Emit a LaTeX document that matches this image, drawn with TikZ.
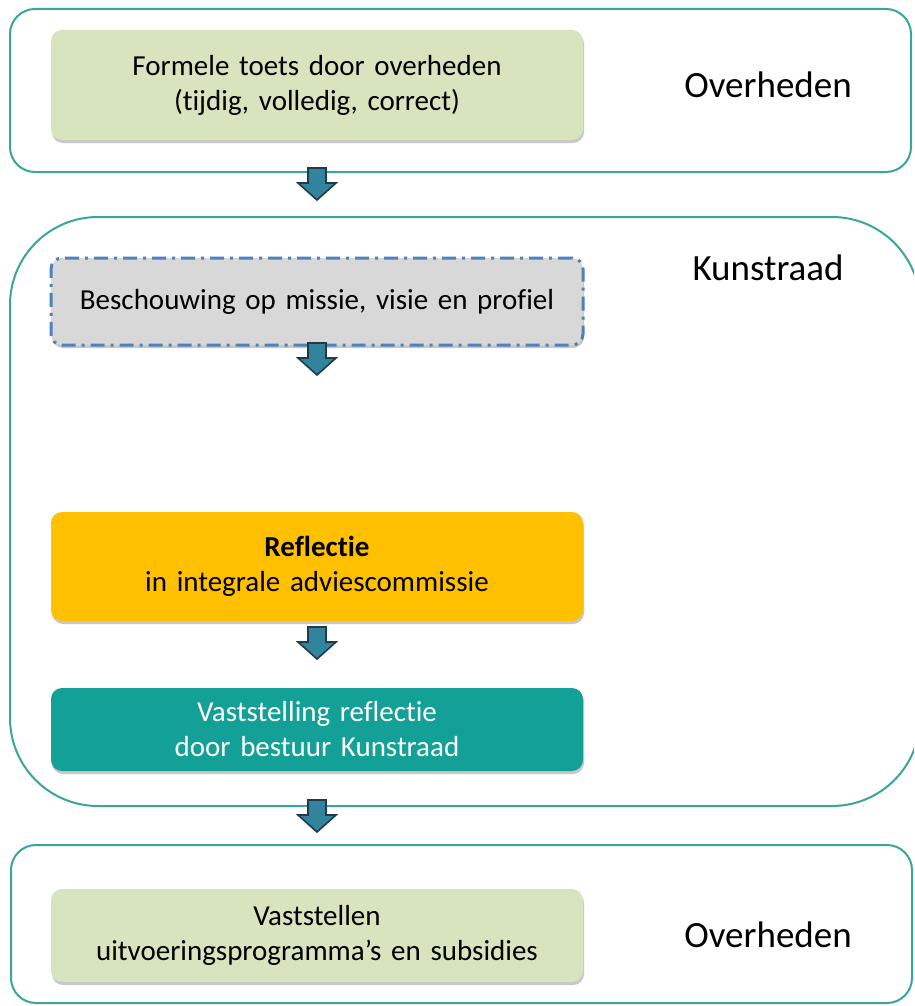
\documentclass[tikz,border=0pt]{standalone}
\usepackage{fontspec}
\setmainfont{Carlito}[Ligatures={NoCommon}]
\usetikzlibrary{shadows}
\definecolor{frameteal}{HTML}{3AA59A}
\definecolor{lightgreen}{HTML}{D7E4BD}
\definecolor{greybox}{HTML}{D8D8D8}
\definecolor{dashblue}{HTML}{4F81BD}
\definecolor{amber}{HTML}{FFC000}
\definecolor{tealbox}{HTML}{13A096}
\definecolor{arrowfill}{HTML}{31849B}
\definecolor{arrowline}{HTML}{203A4A}
\tikzset{
  frame/.style={draw=frameteal, line width=2pt},
  stepbox/.style={rectangle, rounded corners=11pt, minimum width=532pt, text width=520pt, align=center,
     font=\fontsize{29}{35}\selectfont,
     drop shadow={shadow xshift=1pt, shadow yshift=-3pt, opacity=0.3, fill=black!70}},
  sidelabel/.style={font=\fontsize{37}{42}\selectfont, anchor=center},
  blockarrow/.style={fill=arrowfill, draw=arrowline, line width=1.6pt, line join=miter}
}
\begin{document}
\begin{tikzpicture}[x=1pt,y=-1pt]
\useasboundingbox (0,0) rectangle (914,1006);
\clip (0,0) rectangle (914,1006);
\fill[white] (0,0) rectangle (914,1006);

% outer frames
\draw[frame, rounded corners=25pt] (10,9) rectangle (911,172);
\draw[frame, rounded corners=88pt] (10,217) rectangle (920,806);
\draw[frame, rounded corners=25pt] (11,845) rectangle (912,1003);

% boxes
\node[stepbox, fill=greybox, minimum height=87pt, draw=dashblue, line width=3pt,
      dash pattern=on 14pt off 6pt on 3pt off 6pt] (besch) at (317,301.5)
  {Beschouwing op missie, visie en profiel};
\node[stepbox, fill=lightgreen, minimum height=110pt] (toets) at (317,85)
  {Formele toets door overheden\\(tijdig, volledig, correct)};
\node[stepbox, fill=amber, minimum height=109pt] (refl) at (317,566.5)
  {\textbf{Reflectie}\\in integrale adviescommissie};
\node[stepbox, fill=tealbox, text=white, minimum height=83pt] (vast) at (317,729.5)
  {Vaststelling reflectie\\door bestuur Kunstraad};
\node[stepbox, fill=lightgreen, minimum height=93pt] (uitv) at (317,935.5)
  {Vaststellen\\uitvoeringsprogramma’s en subsidies};

% side labels
\node[sidelabel] (ov1) at (768,85) {Overheden};
\node[sidelabel] (kr) at (768,268) {Kunstraad};
\node[sidelabel] (ov2) at (768,935) {Overheden};

% block arrows
\coordinate (a1) at (317,168);
\coordinate (a2) at (317,343);
\coordinate (a3) at (317,627);
\coordinate (a4) at (317,800);
\foreach \a in {a1,a2,a3,a4}{
  \draw[blockarrow] (\a) ++(-9,0) -- ++(18,0) -- ++(0,15) -- ++(10,0) -- ++(-19,17) -- ++(-19,-17) -- ++(10,0) -- cycle;
}
\end{tikzpicture}
\end{document}
